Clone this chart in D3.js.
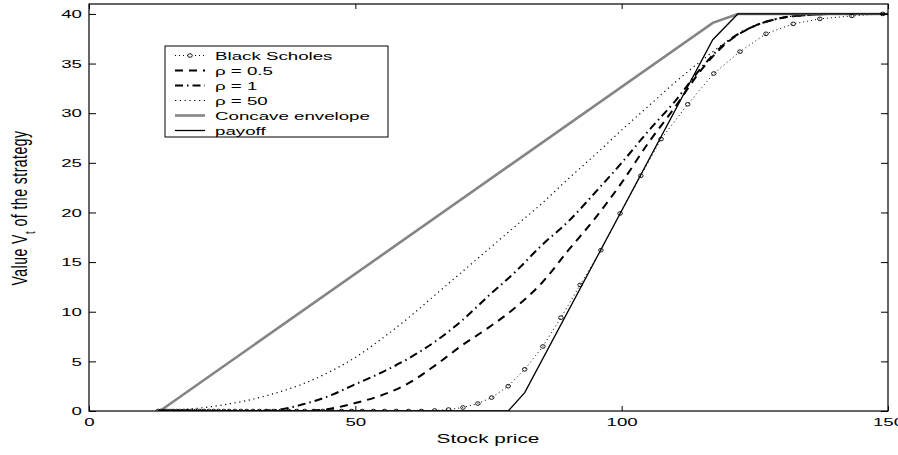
<!DOCTYPE html>
<html>
<head>
<meta charset="utf-8">
<script src="https://cdn.jsdelivr.net/npm/d3@7"></script>
<style>
  body { margin: 0; background: #fff; }
  svg { display: block; font-family: "Liberation Sans", Arial, Helvetica, sans-serif; }
</style>
</head>
<body>
<svg id="chart" width="898" height="455"></svg>
<script>
// ticks
const xTicks = [0, 50, 100, 150];
const yTicks = [0, 5, 10, 15, 20, 25, 30, 35, 40];

// Black Scholes (log-spaced grid, one marker per point)
const bsPrice = [13.0, 13.5, 14.1, 14.6, 15.2, 15.8, 16.5, 17.1, 17.8, 18.5,
  19.2, 20.0, 20.8, 21.6, 22.5, 23.4, 24.3, 25.3, 26.3, 27.4,
  28.5, 29.6, 30.8, 32.0, 33.3, 34.7, 36.0, 37.5, 39.0, 40.5,
  42.2, 43.9, 45.6, 47.4, 49.3, 51.3, 53.4, 55.5, 57.7, 60.0,
  62.4, 64.9, 67.5, 70.2, 73.0, 75.6, 78.7, 81.8, 85.2, 88.6,
  92.2, 96.1, 99.7, 103.6, 107.4, 112.4, 117.3, 122.2, 127.1, 132.2,
  137.2, 143.2, 149.0];
const bsValue = [0, 0, 0, 0, 0, 0, 0, 0, 0, 0,
  0, 0, 0, 0, 0, 0, 0, 0, 0, 0,
  0, 0, 0, 0, 0, 0, 0, 0, 0, 0,
  0, 0, 0, 0, 0, 0, 0, 0, 0, 0,
  0, 0.05, 0.15, 0.35, 0.75, 1.35, 2.5, 4.2, 6.5, 9.4,
  12.7, 16.2, 19.9, 23.7, 27.4, 30.9, 34.0, 36.2, 38.0, 39.0,
  39.5, 39.8, 40.0];

// rho curves, shared price grid
const rhoPrice = [13, 20, 25, 30, 35, 40, 45, 50, 55, 60, 65, 70, 75, 80, 85,
  90, 95, 100, 105, 110, 115, 120, 125, 130, 135, 140, 150];
const rho05 = [0, 0, 0, 0, 0, 0, 0.2, 0.8, 1.6, 2.8, 4.6, 6.6, 8.4, 10.4, 12.9,
  16.2, 19.4, 23.0, 27.0, 30.6, 34.4, 37.2, 38.8, 39.6, 39.9, 40, 40];
const rho1 = [0, 0, 0, 0, 0.1, 0.65, 1.5, 2.7, 3.9, 5.3, 7.0, 9.1, 11.6, 14.0, 16.7,
  19.1, 22.0, 25.0, 28.2, 31.2, 34.6, 37.3, 38.8, 39.6, 39.9, 40, 40];
const rho50 = [0, 0.25, 0.6, 1.1, 1.8, 2.7, 3.9, 5.4, 7.3, 9.4, 11.7, 14.0, 16.3, 18.6, 20.9,
  23.4, 25.8, 28.3, 30.7, 33.1, 35.3, 37.3, 38.8, 39.6, 39.9, 40, 40];

// concave envelope and payoff
const envPrice = [13.3, 117.1, 121.8, 150];
const envValue = [0, 39.1, 40, 40];
const payPrice = [13.3, 78.7, 81.8, 117.1, 121.8, 150];
const payValue = [0, 0, 1.85, 37.4, 40, 40];

const legendLabels = ['Black Scholes', 'ρ = 0.5', 'ρ = 1', 'ρ = 50', 'Concave envelope', 'payoff'];

// the source figure is stretched sideways, text too
const STRETCH = 1.6;

const x = d3.scaleLinear().domain([0, 150]).range([89, 888]);
const y = d3.scaleLinear().domain([0, 41]).range([411, 4]);

const svg = d3.select('#chart');

svg.append('defs').append('clipPath').attr('id', 'plot')
  .append('rect').attr('x', 89).attr('y', 4).attr('width', 799).attr('height', 407);

const zip = (xs, ys) => xs.map((v, i) => [v, ys[i]]);
const line = d3.line().x(d => x(d[0])).y(d => y(d[1]));
const smooth = d3.line().x(d => x(d[0])).y(d => y(d[1])).curve(d3.curveMonotoneX);

const series = [
  { name: 'bs', data: zip(bsPrice, bsValue), gen: line, stroke: '#000', width: 1, dash: '1,3' },
  { name: 'r05', data: zip(rhoPrice, rho05), gen: smooth, stroke: '#000', width: 2, dash: '8,6' },
  { name: 'r1', data: zip(rhoPrice, rho1), gen: smooth, stroke: '#000', width: 2, dash: '8,4,1.5,4' },
  { name: 'r50', data: zip(rhoPrice, rho50), gen: smooth, stroke: '#000', width: 1.2, dash: '1.2,3.6' },
  { name: 'env', data: zip(envPrice, envValue), gen: line, stroke: '#858585', width: 2.6, dash: null },
  { name: 'pay', data: zip(payPrice, payValue), gen: line, stroke: '#000', width: 1.3, dash: null }
];

const plot = svg.append('g').attr('clip-path', 'url(#plot)');

series.forEach(s => {
  plot.append('path')
    .attr('d', s.gen(s.data))
    .attr('fill', 'none')
    .attr('stroke', s.stroke)
    .attr('stroke-width', s.width)
    .attr('stroke-dasharray', s.dash);
});

plot.selectAll('.bs-mark')
  .data(series[0].data)
  .enter().append('ellipse')
  .attr('cx', d => x(d[0]))
  .attr('cy', d => y(d[1]))
  .attr('rx', 2.3)
  .attr('ry', 1.8)
  .attr('fill', 'none')
  .attr('stroke', '#000')
  .attr('stroke-width', 0.9);

// axes, ticks pointing inwards on all four sides
const tickFont = 11.7;

const gx = svg.append('g').attr('transform', 'translate(0,411)')
  .call(d3.axisBottom(x).tickValues(xTicks).tickSizeInner(-5).tickSizeOuter(0).tickPadding(6.5));
gx.selectAll('text')
  .attr('font-size', tickFont + 'px')
  .attr('transform', `scale(${STRETCH},1)`);

svg.append('g').attr('transform', 'translate(0,4)')
  .call(d3.axisTop(x).tickValues(xTicks).tickSizeInner(-5).tickSizeOuter(0).tickFormat(''));

const gy = svg.append('g').attr('transform', 'translate(89,0)')
  .call(d3.axisLeft(y).tickValues(yTicks).tickSizeInner(-7).tickSizeOuter(0).tickPadding(7));
gy.selectAll('text')
  .attr('font-size', tickFont + 'px')
  .attr('x', -7 / STRETCH)
  .attr('transform', `scale(${STRETCH},1)`);

svg.append('g').attr('transform', 'translate(888,0)')
  .call(d3.axisRight(y).tickValues(yTicks).tickSizeInner(-7).tickSizeOuter(0).tickFormat(''));

svg.selectAll('.domain').remove();
svg.selectAll('.tick line').attr('stroke', '#000').attr('stroke-width', 1);
svg.selectAll('.tick text').attr('fill', '#000').attr('font-family', null);

svg.append('rect')
  .attr('x', 89).attr('y', 4).attr('width', 799).attr('height', 407)
  .attr('fill', 'none').attr('stroke', '#000').attr('stroke-width', 1.2);

// axis titles
svg.append('text')
  .attr('transform', `translate(488,443) scale(${STRETCH},1)`)
  .attr('text-anchor', 'middle')
  .attr('font-size', '13px')
  .text('Stock price');

const yl = svg.append('text')
  .attr('transform', `translate(27,208) scale(${STRETCH},1) rotate(-90)`)
  .attr('text-anchor', 'middle')
  .attr('font-size', '14px')
  .attr('letter-spacing', '0.5px');
yl.append('tspan').text('Value V');
yl.append('tspan').attr('dy', 5).attr('font-size', '9.5px').text('t');
yl.append('tspan').attr('dy', -5).text(' of the strategy');

// legend
const lg = svg.append('g');
lg.append('rect')
  .attr('x', 165).attr('y', 46).attr('width', 223).attr('height', 91)
  .attr('fill', '#fff').attr('stroke', '#000').attr('stroke-width', 1);

legendLabels.forEach((label, i) => {
  const s = series[i];
  const ry = 55.5 + i * 15;
  lg.append('line')
    .attr('x1', 175).attr('x2', 205).attr('y1', ry).attr('y2', ry)
    .attr('stroke', s.stroke)
    .attr('stroke-width', s.width)
    .attr('stroke-dasharray', s.dash);
  if (i === 0) {
    lg.append('ellipse')
      .attr('cx', 190).attr('cy', ry).attr('rx', 2.3).attr('ry', 1.8)
      .attr('fill', '#fff').attr('stroke', '#000').attr('stroke-width', 0.9);
  }
  lg.append('text')
    .attr('transform', `translate(215,${ry + 4}) scale(${STRETCH},1)`)
    .attr('font-size', tickFont + 'px')
    .text(label);
});
</script>
</body>
</html>
